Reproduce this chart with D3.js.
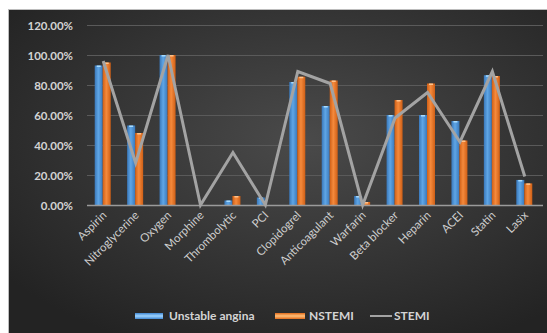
<!DOCTYPE html>
<html>
<head>
<meta charset="utf-8">
<script src="https://cdn.jsdelivr.net/npm/d3@7"></script>
<style>
  html, body { margin: 0; padding: 0; background: #ffffff; }
  svg { display: block; }
  text { font-family: Lato, "Open Sans", sans-serif; }
</style>
</head>
<body>
<svg id="chart" width="547" height="333"></svg>
<script>
// Treatment categories and share of patients per group (%)
const categories = ["Aspirin", "Nitroglycerine", "Oxygen", "Morphine", "Thrombolytic", "PCI",
  "Clopidogrel", "Anticoagulant", "Warfarin", "Beta blocker", "Heparin", "ACEI", "Statin", "Lasix"];
const unstableAngina = [93, 53, 100, 0, 3, 5, 82, 66, 6, 60, 60, 56, 86.5, 16.7];
const nstemi = [95, 48, 100, 0, 6, 0, 85.5, 83, 2, 70, 81, 43, 86, 14.4];
const stemi = [96, 28, 100, 0, 35, 0, 89, 81, 0, 58, 75, 42, 89, 19];
const yTicks = [0, 20, 40, 60, 80, 100, 120];
const seriesNames = ["Unstable angina", "NSTEMI", "STEMI"];

const svg = d3.select("#chart");
const W = 547, H = 333;
const frame = { x: 9, y: 10 };
const plot = { left: 87, right: 541, top: 25, bottom: 205 };

const defs = svg.append("defs");

// dark radial background
const bg = defs.append("radialGradient").attr("id", "bgGrad")
  .attr("cx", "55%").attr("cy", "40%").attr("r", "70%");
bg.append("stop").attr("offset", "0%").attr("stop-color", "#4a4a4a");
bg.append("stop").attr("offset", "100%").attr("stop-color", "#232323");

function barGradient(id, edge, mid) {
  const g = defs.append("linearGradient").attr("id", id)
    .attr("x1", "0%").attr("x2", "100%").attr("y1", "0%").attr("y2", "0%");
  g.append("stop").attr("offset", "0%").attr("stop-color", edge);
  g.append("stop").attr("offset", "45%").attr("stop-color", mid);
  g.append("stop").attr("offset", "100%").attr("stop-color", edge);
}
barGradient("blueGrad", "#3a78ba", "#5fa6e6");
barGradient("orangeGrad", "#cf5f16", "#f58a3c");

function swatchGradient(id, edge, mid) {
  const g = defs.append("linearGradient").attr("id", id)
    .attr("x1", "0%").attr("x2", "0%").attr("y1", "0%").attr("y2", "100%");
  g.append("stop").attr("offset", "0%").attr("stop-color", edge);
  g.append("stop").attr("offset", "50%").attr("stop-color", mid);
  g.append("stop").attr("offset", "100%").attr("stop-color", edge);
}
swatchGradient("blueSw", "#3f86d0", "#9fd4ff");
swatchGradient("orangeSw", "#e06a1a", "#ffc07a");

// frame
svg.append("rect").attr("x", frame.x - 1).attr("y", frame.y - 1)
  .attr("width", W - frame.x + 1).attr("height", H - frame.y + 1)
  .attr("fill", "#bdbdbd");
svg.append("rect").attr("x", frame.x).attr("y", frame.y)
  .attr("width", W - frame.x).attr("height", H - frame.y)
  .attr("fill", "url(#bgGrad)");

const x = d3.scaleBand().domain(categories).range([plot.left, plot.right]);
const y = d3.scaleLinear().domain([0, 120]).range([plot.bottom, plot.top]);

// gridlines
svg.append("g").selectAll("line").data(yTicks.filter(t => t > 0)).join("line")
  .attr("x1", plot.left).attr("x2", plot.right + 2)
  .attr("y1", d => y(d) + 0.5).attr("y2", d => y(d) + 0.5)
  .attr("stroke", "#5a5a5a").attr("stroke-width", 1);

// y axis labels
const yAxis = d3.axisLeft(y).tickValues(yTicks)
  .tickFormat(d => d.toFixed(2) + "%").tickSize(0).tickPadding(14);
const yg = svg.append("g").attr("transform", `translate(${plot.left},0)`).call(yAxis);
yg.select(".domain").remove();
yg.selectAll("text").attr("fill", "#d4d4d4").attr("font-size", 11.5)
  .attr("font-weight", 700).attr("dy", "0.35em");

// bars
const bw = 8;
const bars = svg.append("g");
bars.selectAll(".ua").data(categories).join("rect")
  .attr("x", d => x(d) + x.bandwidth() / 2 - bw - 0.5)
  .attr("y", (d, i) => y(unstableAngina[i]))
  .attr("width", bw)
  .attr("height", (d, i) => y(0) - y(unstableAngina[i]))
  .attr("fill", "url(#blueGrad)");
bars.selectAll(".ns").data(categories).join("rect")
  .attr("x", d => x(d) + x.bandwidth() / 2 - 0.5)
  .attr("y", (d, i) => y(nstemi[i]))
  .attr("width", bw)
  .attr("height", (d, i) => y(0) - y(nstemi[i]))
  .attr("fill", "url(#orangeGrad)");
// light caps on bar tops
bars.selectAll(".uaCap").data(categories).join("rect")
  .attr("x", d => x(d) + x.bandwidth() / 2 - bw + 1.5)
  .attr("y", (d, i) => y(unstableAngina[i]))
  .attr("width", bw - 4).attr("height", (d, i) => unstableAngina[i] > 0 ? 1.5 : 0)
  .attr("fill", "#a8dcff");
bars.selectAll(".nsCap").data(categories).join("rect")
  .attr("x", d => x(d) + x.bandwidth() / 2 + 1.5)
  .attr("y", (d, i) => y(nstemi[i]))
  .attr("width", bw - 4).attr("height", (d, i) => nstemi[i] > 0 ? 1.5 : 0)
  .attr("fill", "#ffc28a");

// x axis line
svg.append("line").attr("x1", plot.left).attr("x2", plot.right + 2)
  .attr("y1", y(0) + 0.5).attr("y2", y(0) + 0.5)
  .attr("stroke", "#9a9a9a").attr("stroke-width", 1.5);

// STEMI line
const line = d3.line()
  .x((d, i) => x(categories[i]) + x.bandwidth() / 2)
  .y(d => y(d));
svg.append("path").datum(stemi).attr("d", line)
  .attr("fill", "none").attr("stroke", "#a3a3a3").attr("stroke-width", 3)
  .attr("stroke-linejoin", "miter");

// category labels
svg.append("g").selectAll("text").data(categories).join("text")
  .attr("transform", d => `translate(${x(d) + x.bandwidth() / 2 + 4},${plot.bottom + 11}) rotate(-45)`)
  .attr("text-anchor", "end")
  .attr("fill", "#cfcfcf").attr("font-size", 11.5)
  .text(d => d);

// legend
const lg = svg.append("g");
lg.append("rect").attr("x", 135).attr("y", 313).attr("width", 28).attr("height", 6)
  .attr("fill", "url(#blueSw)");
lg.append("text").attr("x", 169).attr("y", 320).attr("fill", "#d4d4d4")
  .attr("font-size", 12).attr("font-weight", 700).text(seriesNames[0]);
lg.append("rect").attr("x", 275).attr("y", 313).attr("width", 30).attr("height", 6)
  .attr("fill", "url(#orangeSw)");
lg.append("text").attr("x", 309).attr("y", 320).attr("fill", "#d4d4d4")
  .attr("font-size", 12).attr("font-weight", 700).text(seriesNames[1]);
lg.append("line").attr("x1", 370).attr("x2", 392).attr("y1", 316).attr("y2", 316)
  .attr("stroke", "#a3a3a3").attr("stroke-width", 2);
lg.append("text").attr("x", 394).attr("y", 320).attr("fill", "#d4d4d4")
  .attr("font-size", 12).attr("font-weight", 700).text(seriesNames[2]);
</script>
</body>
</html>
